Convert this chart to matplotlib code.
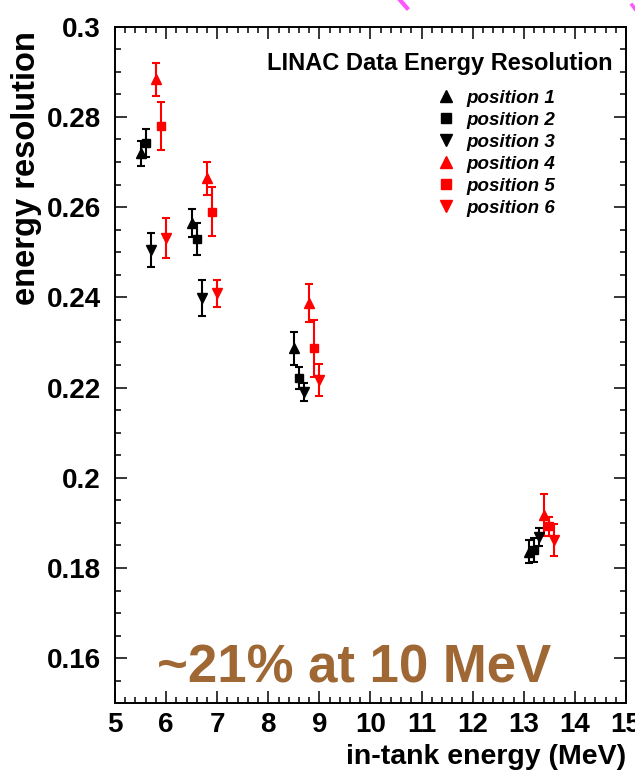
# -*- coding: utf-8 -*-
import matplotlib
matplotlib.use("Agg")
import matplotlib.pyplot as plt
from matplotlib.ticker import MultipleLocator, FuncFormatter
from matplotlib.lines import Line2D

plt.rcParams['font.family'] = ['Liberation Sans', 'DejaVu Sans']

# in-tank energy (MeV) for each source position
e_pos1 = [5.5, 6.5, 8.5, 13.1]
e_pos2 = [5.6, 6.6, 8.6, 13.2]
e_pos3 = [5.7, 6.7, 8.7, 13.3]
e_pos4 = [5.8, 6.8, 8.8, 13.4]
e_pos5 = [5.9, 6.9, 8.9, 13.5]
e_pos6 = [6.0, 7.0, 9.0, 13.6]

# energy resolution and its error
res_pos1 = [0.2719, 0.2564, 0.2287, 0.1836]
res_pos2 = [0.2742, 0.2529, 0.2221, 0.1840]
res_pos3 = [0.2505, 0.2398, 0.2191, 0.1869]
res_pos4 = [0.2883, 0.2664, 0.2387, 0.1918]
res_pos5 = [0.2780, 0.2590, 0.2287, 0.1892]
res_pos6 = [0.2531, 0.2409, 0.2217, 0.1862]

err_pos1 = [0.0027, 0.0031, 0.0037, 0.0025]
err_pos2 = [0.0032, 0.0035, 0.0025, 0.0027]
err_pos3 = [0.0037, 0.0040, 0.0020, 0.0020]
err_pos4 = [0.0036, 0.0037, 0.0042, 0.0046]
err_pos5 = [0.0053, 0.0055, 0.0063, 0.0020]
err_pos6 = [0.0044, 0.0030, 0.0035, 0.0035]

labels = ['position 1', 'position 2', 'position 3',
          'position 4', 'position 5', 'position 6']

series = [
    (e_pos1, res_pos1, err_pos1, '^', 'black', 7),
    (e_pos2, res_pos2, err_pos2, 's', 'black', 6.2),
    (e_pos3, res_pos3, err_pos3, 'v', 'black', 7),
    (e_pos4, res_pos4, err_pos4, '^', '#ff0000', 7),
    (e_pos5, res_pos5, err_pos5, 's', '#ff0000', 6.2),
    (e_pos6, res_pos6, err_pos6, 'v', '#ff0000', 7),
]

fig = plt.figure(figsize=(6.35, 7.8), dpi=100)
ax = fig.add_axes([0.1811, 0.0983, 0.8047, 0.8675])

handles = []
for x, y, err, marker, color, ms in series:
    eb = ax.errorbar(x, y, yerr=err, fmt=marker, color=color, ms=ms,
                     elinewidth=1.5, capsize=3, capthick=1.5, zorder=3)
    handles.append(eb.lines[0])

ax.set_xlim(5, 15)
ax.set_ylim(0.15, 0.3)

ax.xaxis.set_major_locator(MultipleLocator(1))
ax.xaxis.set_minor_locator(MultipleLocator(0.2))
ax.yaxis.set_major_locator(MultipleLocator(0.02))
ax.yaxis.set_minor_locator(MultipleLocator(0.005))
ax.yaxis.set_major_formatter(FuncFormatter(lambda v, p: '%g' % round(v, 3)))

ax.tick_params(which='both', direction='in', top=True, right=True,
               width=1.1, labelsize=20)
ax.tick_params(which='major', length=8.6)
ax.tick_params(which='minor', length=4.3)
ax.tick_params(axis='y', pad=10)
ax.tick_params(axis='x', pad=6)
for lab in ax.get_xticklabels() + ax.get_yticklabels():
    lab.set_fontweight('bold')
for sp in ax.spines.values():
    sp.set_linewidth(1.4)

ax.set_xlabel('in-tank energy (MeV)', fontsize=20.5, fontweight='bold',
              loc='right')
ax.xaxis.set_label_coords(1.0, -0.06)
ax.set_ylabel('energy resolution', fontsize=23.5, fontweight='bold', loc='top')
ax.yaxis.set_label_coords(-0.143, 0.993)

ax.text(0.973, 0.945, 'LINAC Data Energy Resolution', transform=ax.transAxes,
        ha='right', va='center', fontsize=17, fontweight='bold')

ax.legend(handles, labels, loc='upper left', bbox_to_anchor=(0.612, 0.921),
          frameon=False, borderpad=0, handlelength=1.0, handletextpad=0.55,
          labelspacing=0.26, markerscale=1.2,
          prop={'size': 13.5, 'weight': 'bold', 'style': 'italic'})

ax.text(9.67, 0.1577, '~21% at 10 MeV', ha='center', va='center',
        fontsize=38, fontweight='bold', color='#9e6734')

# pink stroke fragments at the top of the slide
fig.add_artist(Line2D([400 / 635, 407 / 635], [1.0, 1 - 8 / 780],
                      transform=fig.transFigure, color='#ff55ff', lw=3))
fig.add_artist(Line2D([632 / 635, 635 / 635], [1 - 5 / 780, 1 - 9 / 780],
                      transform=fig.transFigure, color='#ff55ff', lw=2.5))

plt.savefig('out.png', dpi=100)
